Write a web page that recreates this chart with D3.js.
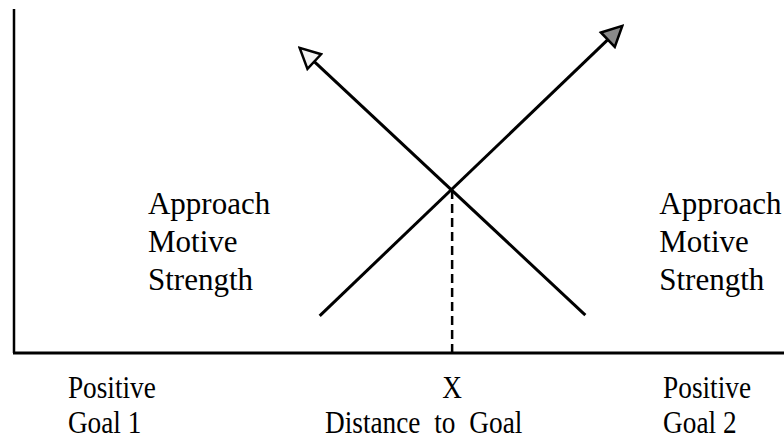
<!DOCTYPE html>
<html>
<head>
<meta charset="utf-8">
<script src="https://cdn.jsdelivr.net/npm/d3@7/dist/d3.min.js"></script>
<style>
  html, body { margin: 0; padding: 0; background: #fff; }
  svg { display: block; }
</style>
</head>
<body>
<svg id="chart" width="784" height="446"></svg>
<script>
// ---- data (abstract units: x = distance position 0..100, y = motive strength 0..100) ----
const goal1Approach = [ { x: 74.2, y: 11.0 }, { x: 37.1, y: 88.7 } ];   // falls toward Goal 1
const goal2Approach = [ { x: 39.7, y: 10.8 }, { x: 79.0, y: 95.1 } ];   // rises toward Goal 2
const crossingX = 56.9;
const crossingY = 47.4;
const sideLabel = ["Approach", "Motive", "Strength"];
const bottomLabels = [
  { x: 7.0,  lines: ["Positive", "Goal 1"] },
  { x: 84.3, lines: ["Positive", "Goal 2"] }
];
const crossingLabel = "X";
const axisTitle = "Distance to Goal";

// ---- layout ----
const svg = d3.select("#chart");
const x = d3.scaleLinear().domain([0, 100]).range([14, 784]);
const y = d3.scaleLinear().domain([0, 100]).range([353, 9]);

// axes
svg.append("line")
  .attr("x1", x(0)).attr("x2", x(0)).attr("y1", y(100)).attr("y2", y(0))
  .attr("stroke", "#000").attr("stroke-width", 2.5);
svg.append("line")
  .attr("x1", x(0) - 1).attr("x2", x(100)).attr("y1", y(0)).attr("y2", y(0))
  .attr("stroke", "#000").attr("stroke-width", 3);

// arrowheads
const defs = svg.append("defs");
function marker(id, fill) {
  defs.append("marker")
    .attr("id", id)
    .attr("markerUnits", "userSpaceOnUse")
    .attr("viewBox", "-2 -12 24 24")
    .attr("markerWidth", 24).attr("markerHeight", 24)
    .attr("refX", 0).attr("refY", 0)
    .attr("orient", "auto")
    .append("path")
    .attr("d", "M0,-10 L20,0 L0,10 Z")
    .attr("fill", fill).attr("stroke", "#000").attr("stroke-width", 2.5)
    .attr("stroke-linejoin", "miter");
}
marker("headA", "#f2f2f2");
marker("headB", "#8a8a8a");

// shorten line so the marker tip lands on the data end point
function shaft(pts, headLen) {
  const p0 = [x(pts[0].x), y(pts[0].y)];
  const p1 = [x(pts[1].x), y(pts[1].y)];
  const dx = p1[0] - p0[0], dy = p1[1] - p0[1];
  const L = Math.hypot(dx, dy);
  return [p0, [p1[0] - dx / L * headLen, p1[1] - dy / L * headLen]];
}
const lineGen = d3.line();
svg.append("path")
  .attr("d", lineGen(shaft(goal1Approach, 20)))
  .attr("fill", "none").attr("stroke", "#000").attr("stroke-width", 3)
  .attr("marker-end", "url(#headA)");
svg.append("path")
  .attr("d", lineGen(shaft(goal2Approach, 20)))
  .attr("fill", "none").attr("stroke", "#000").attr("stroke-width", 3)
  .attr("marker-end", "url(#headB)");

// dashed drop line
svg.append("line")
  .attr("x1", x(crossingX)).attr("x2", x(crossingX))
  .attr("y1", y(crossingY)).attr("y2", y(0))
  .attr("stroke", "#000").attr("stroke-width", 2.5)
  .attr("stroke-dasharray", "9,5");

// side labels
const serif = "'Liberation Serif', 'Times New Roman', serif";
[x(17.4), x(83.8)].forEach(px => {
  const t = svg.append("text")
    .attr("x", px).attr("y", 214)
    .attr("font-family", serif).attr("font-size", 31).attr("fill", "#000");
  sideLabel.forEach((s, i) => {
    t.append("tspan").attr("x", px).attr("dy", i === 0 ? 0 : 38).text(s);
  });
});

// bottom labels (slightly condensed serif)
const sx = 0.88;
function condensed(px, py) {
  return svg.append("g").attr("transform", `translate(${px},${py}) scale(${sx},1)`);
}
bottomLabels.forEach(b => {
  const t = condensed(x(b.x), 398).append("text")
    .attr("font-family", serif).attr("font-size", 31).attr("fill", "#000");
  b.lines.forEach((s, i) => {
    t.append("tspan").attr("x", 0).attr("y", i * 35).text(s);
  });
});
condensed(x(crossingX), 398).append("text")
  .attr("text-anchor", "middle")
  .attr("font-family", serif).attr("font-size", 31).text(crossingLabel);
condensed(325, 433).append("text")
  .attr("font-family", serif).attr("font-size", 31)
  .attr("word-spacing", 8)
  .text(axisTitle);
</script>
</body>
</html>
